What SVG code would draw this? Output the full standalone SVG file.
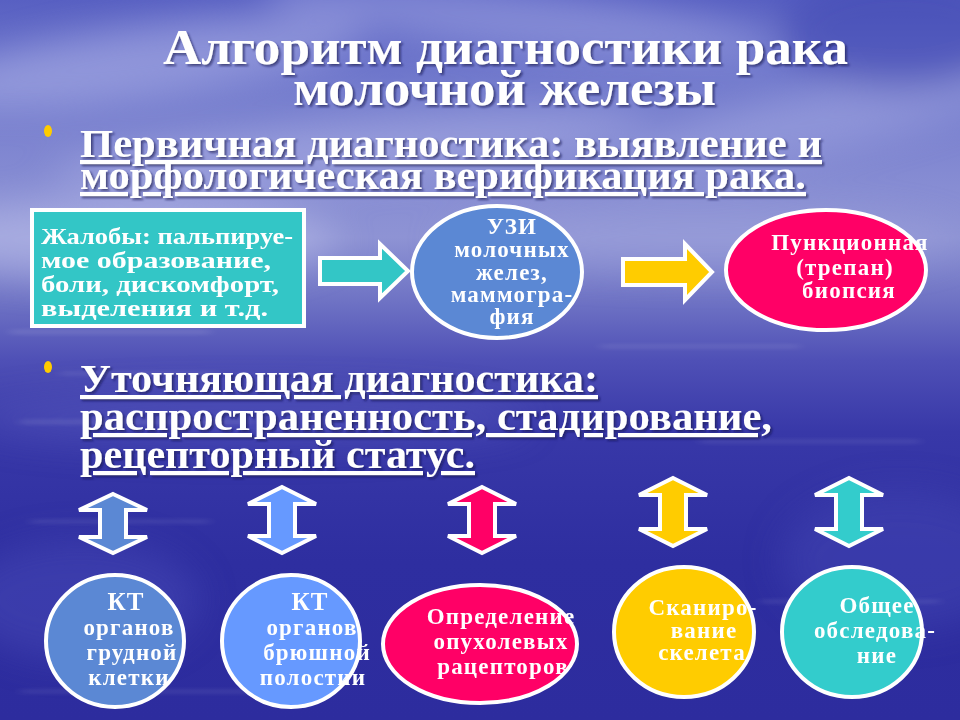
<svg xmlns="http://www.w3.org/2000/svg" width="960" height="720" viewBox="0 0 960 720">
<defs>
<linearGradient id="bg" x1="0" y1="0" x2="0" y2="1">
<stop offset="0" stop-color="#5860c2"/>
<stop offset="0.12" stop-color="#737bcd"/>
<stop offset="0.26" stop-color="#878dd3"/>
<stop offset="0.33" stop-color="#8e93d4"/>
<stop offset="0.42" stop-color="#6e72c4"/>
<stop offset="0.50" stop-color="#4f50b6"/>
<stop offset="0.60" stop-color="#3838a8"/>
<stop offset="0.78" stop-color="#2e2ea0"/>
<stop offset="1" stop-color="#2d2c9e"/>
</linearGradient>
<filter id="blur" x="-50%" y="-50%" width="200%" height="200%"><feGaussianBlur stdDeviation="18"/></filter>
<filter id="blur2" x="-50%" y="-50%" width="200%" height="200%"><feGaussianBlur stdDeviation="6 2"/></filter>
<filter id="sh" x="-5%" y="-20%" width="110%" height="140%"><feDropShadow dx="2" dy="2" stdDeviation="1" flood-color="#10104a" flood-opacity="0.6"/></filter>
<style>
.title{font-family:"Liberation Serif","Times New Roman",serif;font-weight:bold;font-size:50px;fill:#ffffff}
.bul{font-family:"Liberation Serif","Times New Roman",serif;font-weight:bold;font-size:41px;fill:#ffffff;text-decoration:underline}
.box{font-family:"Liberation Serif","Times New Roman",serif;font-weight:bold;font-size:23px;fill:#ffffff}
.nt{font-family:"Liberation Serif","Times New Roman",serif;font-weight:bold;font-size:23px;fill:#ffffff;text-anchor:middle;letter-spacing:1.2px}
.node{stroke:#ffffff;stroke-width:4}
.arr{stroke:#ffffff;stroke-width:4;stroke-linejoin:miter}
.dot{fill:#ffcc00}
</style>
</defs>

<!-- background -->
<rect width="960" height="720" fill="url(#bg)"/>
<g opacity="0.5" filter="url(#blur)">
<ellipse cx="150" cy="60" rx="220" ry="35" fill="#b4b8ea" transform="rotate(-8 150 60)"/>
<ellipse cx="520" cy="20" rx="260" ry="30" fill="#a9aee6" transform="rotate(6 520 20)"/>
<ellipse cx="820" cy="120" rx="200" ry="30" fill="#a4a9e2" transform="rotate(-12 820 120)"/>
<ellipse cx="350" cy="150" rx="300" ry="28" fill="#b0b4e6" transform="rotate(-5 350 150)"/>
<ellipse cx="120" cy="240" rx="220" ry="40" fill="#c0c3ec"/>
<ellipse cx="700" cy="240" rx="260" ry="30" fill="#9ea3dc"/>
<ellipse cx="900" cy="30" rx="120" ry="60" fill="#3e45b0"/>
<ellipse cx="250" cy="420" rx="280" ry="25" fill="#5a5cc0"/>
<ellipse cx="80" cy="600" rx="120" ry="60" fill="#4a4cb8"/>
<ellipse cx="900" cy="560" rx="120" ry="70" fill="#4446b4"/>
</g>
<g opacity="0.12" filter="url(#blur2)" fill="#ffffff">
<rect x="10" y="330" width="200" height="4"/>
<rect x="60" y="372" width="160" height="3"/>
<rect x="20" y="420" width="230" height="4"/>
<rect x="120" y="470" width="150" height="3"/>
<rect x="30" y="520" width="180" height="3"/>
<rect x="600" y="345" width="200" height="3"/>
<rect x="700" y="440" width="220" height="3"/>
<rect x="760" y="600" width="180" height="3"/>
<rect x="20" y="690" width="260" height="3"/>
</g>

<!-- titles -->
<g id="title" filter="url(#sh)">
<text class="title" x="163" y="64" textLength="685" lengthAdjust="spacingAndGlyphs">Алгоритм диагностики рака</text>
<text class="title" x="293" y="105" textLength="423" lengthAdjust="spacingAndGlyphs">молочной железы</text>
</g>

<g id="bullet1">
<ellipse class="dot" cx="48" cy="131" rx="4" ry="6"/>
<g filter="url(#sh)">
<text class="bul" x="80" y="157" textLength="742" lengthAdjust="spacingAndGlyphs">Первичная диагностика: выявление и</text>
<text class="bul" x="80" y="189" textLength="726" lengthAdjust="spacingAndGlyphs">морфологическая верификация рака.</text>
</g>
</g>

<g id="bullet2">
<ellipse class="dot" cx="48" cy="367" rx="4" ry="6"/>
<g filter="url(#sh)">
<text class="bul" x="80" y="392" textLength="518" lengthAdjust="spacingAndGlyphs">Уточняющая диагностика:</text>
<text class="bul" x="80" y="430" textLength="692" lengthAdjust="spacingAndGlyphs">распространенность, стадирование,</text>
<text class="bul" x="80" y="468" textLength="395" lengthAdjust="spacingAndGlyphs">рецепторный статус.</text>
</g>
</g>

<!-- connectors -->
<g id="connectors">
<polygon class="arr" fill="#33c6c6" points="320,258 380,258 380,244 408,271 380,298 380,284 320,284"/>
<polygon class="arr" fill="#ffcc00" points="623,259 685,259 685,244 712,272 685,300 685,285 623,285"/>
<polygon class="arr" fill="#5b88d4" points="113,494 147,510 126,510 126,537 147,537 113,553 79,537 100,537 100,510 79,510"/>
<polygon class="arr" fill="#6699ff" points="282,487 316,504 295,504 295,536 316,536 282,553 248,536 269,536 269,504 248,504"/>
<polygon class="arr" fill="#ff0066" points="482,487 516,504 495,504 495,536 516,536 482,553 448,536 469,536 469,504 448,504"/>
<polygon class="arr" fill="#ffcc00" points="673,478 707,495 686,495 686,529 707,529 673,546 639,529 660,529 660,495 639,495"/>
<polygon class="arr" fill="#33cccc" points="849,478 883,495 862,495 862,529 883,529 849,546 815,529 836,529 836,495 815,495"/>
</g>

<!-- nodes -->
<g id="complaints">
<rect x="32" y="210" width="272" height="116" fill="#33c6c6" stroke="#ffffff" stroke-width="4"/>
<text class="box" x="41" y="244" textLength="252" lengthAdjust="spacingAndGlyphs">Жалобы: пальпируе-</text>
<text class="box" x="41" y="268" textLength="230" lengthAdjust="spacingAndGlyphs">мое образование,</text>
<text class="box" x="41" y="292" textLength="238" lengthAdjust="spacingAndGlyphs">боли, дискомфорт,</text>
<text class="box" x="41" y="316" textLength="227" lengthAdjust="spacingAndGlyphs">выделения и т.д.</text>
</g>

<g id="uzi">
<ellipse class="node" cx="497" cy="272" rx="85" ry="66" fill="#5b88d4"/>
<text class="nt" x="512" y="234">УЗИ</text>
<text class="nt" x="512" y="257">молочных</text>
<text class="nt" x="512" y="280">желез,</text>
<text class="nt" x="512" y="302">маммогра-</text>
<text class="nt" x="512" y="324">фия</text>
</g>

<g id="biopsy">
<ellipse class="node" cx="826" cy="270" rx="100" ry="60" fill="#ff0066"/>
<text class="nt" x="850" y="250">Пункционная</text>
<text class="nt" x="845" y="275">(трепан)</text>
<text class="nt" x="849" y="298">биопсия</text>
</g>

<g id="ct-chest">
<ellipse class="node" cx="115" cy="641" rx="69" ry="66" fill="#5b88d4"/>
<text class="nt" x="126" y="610" style="font-size:25px">КТ</text>
<text class="nt" x="129" y="635">органов</text>
<text class="nt" x="132" y="660">грудной</text>
<text class="nt" x="129" y="685">клетки</text>
</g>

<g id="ct-abdomen">
<ellipse class="node" cx="291" cy="641" rx="69" ry="66" fill="#6699ff"/>
<text class="nt" x="310" y="610" style="font-size:25px">КТ</text>
<text class="nt" x="312" y="635">органов</text>
<text class="nt" x="317" y="660">брюшной</text>
<text class="nt" x="313" y="685">полостии</text>
</g>

<g id="receptors">
<ellipse class="node" cx="480" cy="644" rx="97" ry="59" fill="#ff0066"/>
<text class="nt" x="501" y="624">Определение</text>
<text class="nt" x="501" y="649">опухолевых</text>
<text class="nt" x="503" y="674">рацепторов</text>
</g>

<g id="skeleton">
<ellipse class="node" cx="684" cy="632" rx="70" ry="65" fill="#ffcc00"/>
<text class="nt" x="703" y="615">Сканиро-</text>
<text class="nt" x="704" y="638">вание</text>
<text class="nt" x="702" y="660">скелета</text>
</g>

<g id="general">
<ellipse class="node" cx="852" cy="632" rx="70" ry="65" fill="#33cccc"/>
<text class="nt" x="877" y="613">Общее</text>
<text class="nt" x="875" y="638">обследова-</text>
<text class="nt" x="877" y="663">ние</text>
</g>
</svg>
